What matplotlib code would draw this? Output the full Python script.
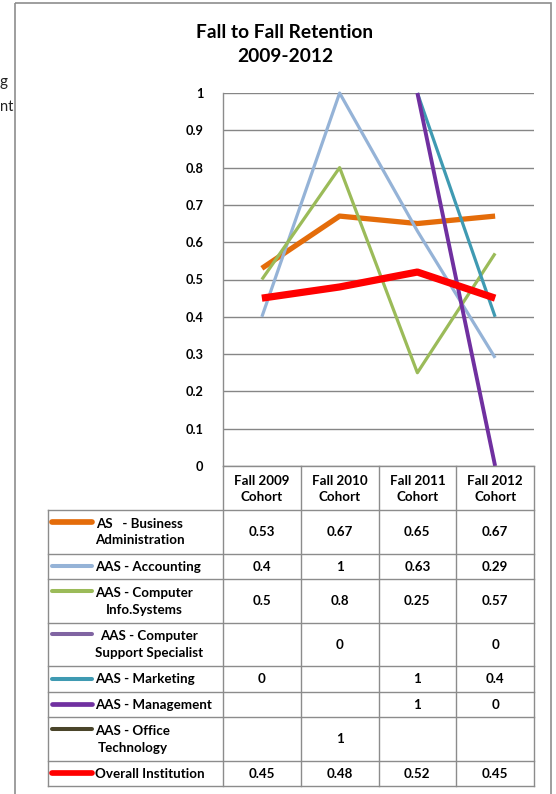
import numpy as np
import matplotlib
matplotlib.use("Agg")
import matplotlib.pyplot as plt

plt.rcParams["font.family"] = ["Lato", "DejaVu Sans"]

# ---- data -------------------------------------------------------------
cohorts = ["Fall 2009\nCohort", "Fall 2010\nCohort", "Fall 2011\nCohort", "Fall 2012\nCohort"]
nan = np.nan
business_admin = [0.53, 0.67, 0.65, 0.67]
accounting = [0.4, 1, 0.63, 0.29]
computer_info = [0.5, 0.8, 0.25, 0.57]
computer_support = [nan, 0, nan, 0]
marketing = [0, nan, 1, 0.4]
management = [nan, nan, 1, 0]
office_tech = [nan, 1, nan, nan]
overall = [0.45, 0.48, 0.52, 0.45]
y_ticks = [0, 0.1, 0.2, 0.3, 0.4, 0.5, 0.6, 0.7, 0.8, 0.9, 1]

series = [
    ("AS   - Business\nAdministration", business_admin, "#E46C0A", 3.8),
    ("AAS - Accounting", accounting, "#95B3D7", 2.3),
    ("AAS - Computer\nInfo.Systems", computer_info, "#9BBB59", 2.3),
    ("AAS - Computer\nSupport Specialist", computer_support, "#8064A2", 2.3),
    ("AAS - Marketing", marketing, "#3F9AB2", 2.3),
    ("AAS - Management", management, "#7030A0", 2.8),
    ("AAS - Office\nTechnology", office_tech, "#4A452A", 2.3),
    ("Overall Institution", overall, "#FF0000", 5.2),
]

W, H = 556, 794
fig = plt.figure(figsize=(W / 100, H / 100), dpi=100)
fig.patch.set_facecolor("white")

# plot region in pixels
px_l, px_r, px_t, px_b = 223, 534, 93, 466
grid_c = "#868686"
line_c = "#8C8C8C"

ax = fig.add_axes([px_l / W, 1 - px_b / H, (px_r - px_l) / W, (px_b - px_t) / H])
ax.set_facecolor("none")
x = np.arange(len(cohorts))
for name, vals, col, lw in series:
    ax.plot(x, vals, color=col, lw=lw, solid_joinstyle="round",
            solid_capstyle="butt", clip_on=False)
ax.set_xlim(-0.5, len(cohorts) - 0.5)
ax.set_ylim(0, 1)
ax.set_yticks(y_ticks)
ax.set_yticklabels(["%g" % t for t in y_ticks], fontsize=9.2, fontweight="bold")
ax.tick_params(axis="y", length=0, pad=14)
ax.set_xticks([])
ax.grid(axis="y", color=grid_c, lw=1.0)
ax.set_axisbelow(True)
for s in ["top", "right"]:
    ax.spines[s].set_visible(False)
for s in ["left", "bottom"]:
    ax.spines[s].set_color(line_c)
    ax.spines[s].set_linewidth(1.0)

# overlay in pixel coordinates for frame, title and data table
ov = fig.add_axes([0, 0, 1, 1], zorder=-1)
ov.set_xlim(0, W)
ov.set_ylim(H, 0)
ov.axis("off")

# fragments of the surrounding page text, left of the chart frame
ov.text(0, 82, "g", ha="left", va="center", fontsize=11, color="#222222")
ov.text(0, 107, "nt", ha="left", va="center", fontsize=10.5, color="#222222")

# chart frame
ov.add_patch(plt.Rectangle((15, 3), 536, 800, fill=False, ec="#8E8E8E", lw=1.2))

ov.text(285, 32, "Fall to Fall Retention", ha="center", va="center",
        fontsize=13.8, fontweight="bold")
ov.text(285, 57, "2009-2012", ha="center", va="center",
        fontsize=13.8, fontweight="bold")

# data table
ncol = len(cohorts)
col_w = (px_r - px_l) / ncol
col_edges = [px_l + i * col_w for i in range(ncol + 1)]
leg_l = 48
header_b = 510
row_h = []
for name, *_ in series:
    row_h.append(43.5 if "\n" in name else 25.5)
row_edges = [header_b]
for h in row_h:
    row_edges.append(row_edges[-1] + h)
tab_b = row_edges[-1]

for cx in col_edges:
    ov.plot([cx, cx], [px_b, tab_b], color=line_c, lw=1.0)
ov.plot([leg_l, leg_l], [header_b, tab_b], color=line_c, lw=1.0)
for ry in row_edges:
    ov.plot([leg_l, px_r], [ry, ry], color=line_c, lw=1.0)

fs = 9.6
ls = 1.45
for i, lab in enumerate(cohorts):
    cx = (col_edges[i] + col_edges[i + 1]) / 2
    ov.text(cx, (px_b + header_b) / 2 + 1, lab, ha="center", va="center",
            fontsize=fs, fontweight="bold", linespacing=ls)

for r, (name, vals, col, lw) in enumerate(series):
    top, bot = row_edges[r], row_edges[r + 1]
    cy = (top + bot) / 2
    two = "\n" in name
    ly = top + 11.5 if two else cy
    ov.plot([52, 92], [ly, ly], color=col, lw=min(lw, 3.5) + 0.6,
            solid_capstyle="round")
    ov.text(95, cy + 0.5, name, ha="left", va="center", multialignment="center",
            fontsize=fs, fontweight="bold", linespacing=ls)
    for i, v in enumerate(vals):
        if np.isnan(v):
            continue
        cx = (col_edges[i] + col_edges[i + 1]) / 2
        ov.text(cx, cy + 0.5, "%g" % v, ha="center", va="center",
                fontsize=fs, fontweight="bold")

fig.savefig("out.png", dpi=100)
